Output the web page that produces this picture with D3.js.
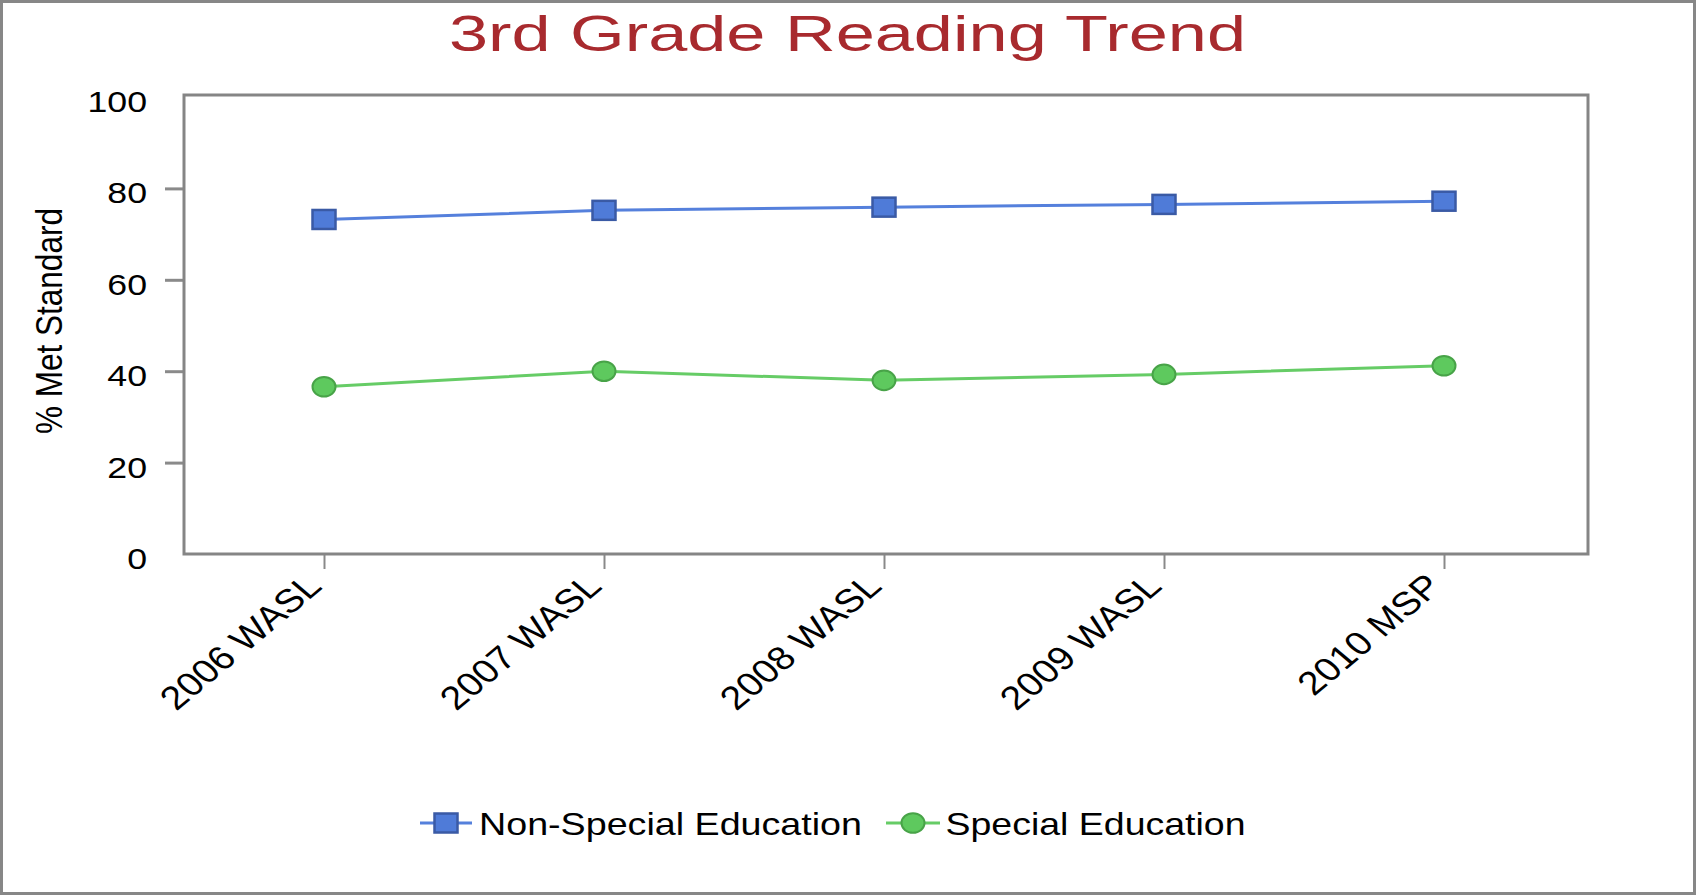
<!DOCTYPE html>
<html>
<head>
<meta charset="utf-8">
<script src="https://cdn.jsdelivr.net/npm/d3@7"></script>
<style>
  html, body { margin: 0; padding: 0; background: #fff; }
  svg { display: block; }
  text { font-family: "Liberation Sans", Arial, sans-serif; fill: #000; }
</style>
</head>
<body>
<svg id="chart" width="1696" height="895"></svg>
<script>
// ---- data ----
const categories = ["2006 WASL", "2007 WASL", "2008 WASL", "2009 WASL", "2010 MSP"];
const nonSpecialEd = [73.2, 75.2, 75.9, 76.5, 77.2];
const specialEd = [36.6, 40.0, 38.0, 39.3, 41.2];
const yTicks = [0, 20, 40, 60, 80, 100];
const seriesNames = ["Non-Special Education", "Special Education"];
const titleText = "3rd Grade Reading Trend";
const yAxisTitle = "% Met Standard";

// ---- layout ----
const W = 1696, H = 895;
const SX = 1.19; // horizontal stretch of glyphs seen in the reference
const plot = { left: 184, right: 1588, top: 95, bottom: 554 };

const svg = d3.select("#chart");

// outer border
svg.append("rect")
  .attr("x", 1.5).attr("y", 1.5)
  .attr("width", W - 3).attr("height", H - 3)
  .attr("fill", "#fff").attr("stroke", "#878787").attr("stroke-width", 3);

const x = d3.scalePoint().domain(categories).range([plot.left, 1584]).padding(0.5);
const y = d3.scaleLinear().domain([0, 100]).range([plot.bottom, 97]);

// title
svg.append("text")
  .attr("x", 847.5 - 797 / 2).attr("y", 51)
  .attr("font-size", 50)
  .attr("textLength", 797).attr("lengthAdjust", "spacingAndGlyphs")
  .style("fill", "#a82a2e")
  .text(titleText);

// y axis (ticks + labels) via d3.axisLeft
const yAxis = d3.axisLeft(y).tickValues(yTicks).tickSize(19).tickPadding(0).tickFormat(d3.format("d"));
const gy = svg.append("g").attr("transform", `translate(${plot.left},0)`).call(yAxis);
gy.select(".domain").remove();
gy.selectAll(".tick line")
  .attr("stroke", "#8a8a8a").attr("stroke-width", 3)
  .attr("display", d => (d === 0 || d === 100) ? "none" : null);
gy.selectAll(".tick text")
  .attr("x", null).attr("dy", null)
  .attr("transform", `translate(${147 - plot.left},14.5) scale(${SX},1)`)
  .attr("text-anchor", "end")
  .attr("font-size", 30)
  .style("font-family", '"Liberation Sans", Arial, sans-serif')
  .style("fill", "#000");

// x axis via d3.axisBottom
const xAxis = d3.axisBottom(x).tickSize(15).tickPadding(0);
const gx = svg.append("g").attr("transform", `translate(0,${plot.bottom})`).call(xAxis);
gx.select(".domain").remove();
gx.selectAll(".tick line").attr("stroke", "#8a8a8a").attr("stroke-width", 2);
gx.selectAll(".tick text")
  .attr("y", null).attr("dy", null)
  .attr("transform", `translate(-1,34) scale(${SX},1) rotate(-45)`)
  .attr("text-anchor", "end")
  .attr("font-size", 33)
  .style("font-family", '"Liberation Sans", Arial, sans-serif')
  .style("fill", "#000");

// plot frame
svg.append("rect")
  .attr("x", plot.left).attr("y", plot.top)
  .attr("width", plot.right - plot.left).attr("height", plot.bottom - plot.top)
  .attr("fill", "none").attr("stroke", "#858585").attr("stroke-width", 3);

// y axis title
svg.append("text")
  .attr("transform", `translate(62,321) scale(${SX},1) rotate(-90)`)
  .attr("text-anchor", "middle")
  .attr("font-size", 31.5)
  .text(yAxisTitle);

// series
const series = [
  { name: seriesNames[0], values: nonSpecialEd, line: "#5580dc", fill: "#4f7bd8", stroke: "#3a5aa5", shape: "square" },
  { name: seriesNames[1], values: specialEd, line: "#66cc66", fill: "#5ec95e", stroke: "#48a348", shape: "circle" }
];

const line = d3.line().x((d, i) => x(categories[i])).y(d => y(d));

function drawMarker(g, shape, cx, cy, s) {
  if (shape === "square") {
    g.append("rect")
      .attr("x", cx - 11.5).attr("y", cy - 9.5)
      .attr("width", 23).attr("height", 19)
      .attr("fill", s.fill).attr("stroke", s.stroke).attr("stroke-width", 2.5);
  } else {
    g.append("ellipse")
      .attr("cx", cx).attr("cy", cy)
      .attr("rx", 11.5).attr("ry", 9.8)
      .attr("fill", s.fill).attr("stroke", s.stroke).attr("stroke-width", 2);
  }
}

series.forEach(s => {
  svg.append("path")
    .datum(s.values)
    .attr("d", line)
    .attr("fill", "none")
    .attr("stroke", s.line)
    .attr("stroke-width", 3);
  const g = svg.append("g");
  s.values.forEach((v, i) => drawMarker(g, s.shape, x(categories[i]), y(v), s));
});

// legend
const legendItems = [
  { s: series[0], x0: 420, x1: 472, tx: 479, tw: 383 },
  { s: series[1], x0: 886, x1: 940, tx: 945.5, tw: 300 }
];
const legendY = 823;
legendItems.forEach(it => {
  const g = svg.append("g");
  g.append("line")
    .attr("x1", it.x0).attr("x2", it.x1)
    .attr("y1", legendY).attr("y2", legendY)
    .attr("stroke", it.s.line).attr("stroke-width", 3);
  drawMarker(g, it.s.shape, (it.x0 + it.x1) / 2, legendY, it.s);
  g.append("text")
    .attr("x", it.tx).attr("y", legendY + 12)
    .attr("font-size", 31.5)
    .attr("textLength", it.tw).attr("lengthAdjust", "spacingAndGlyphs")
    .text(it.s.name);
});
</script>
</body>
</html>
